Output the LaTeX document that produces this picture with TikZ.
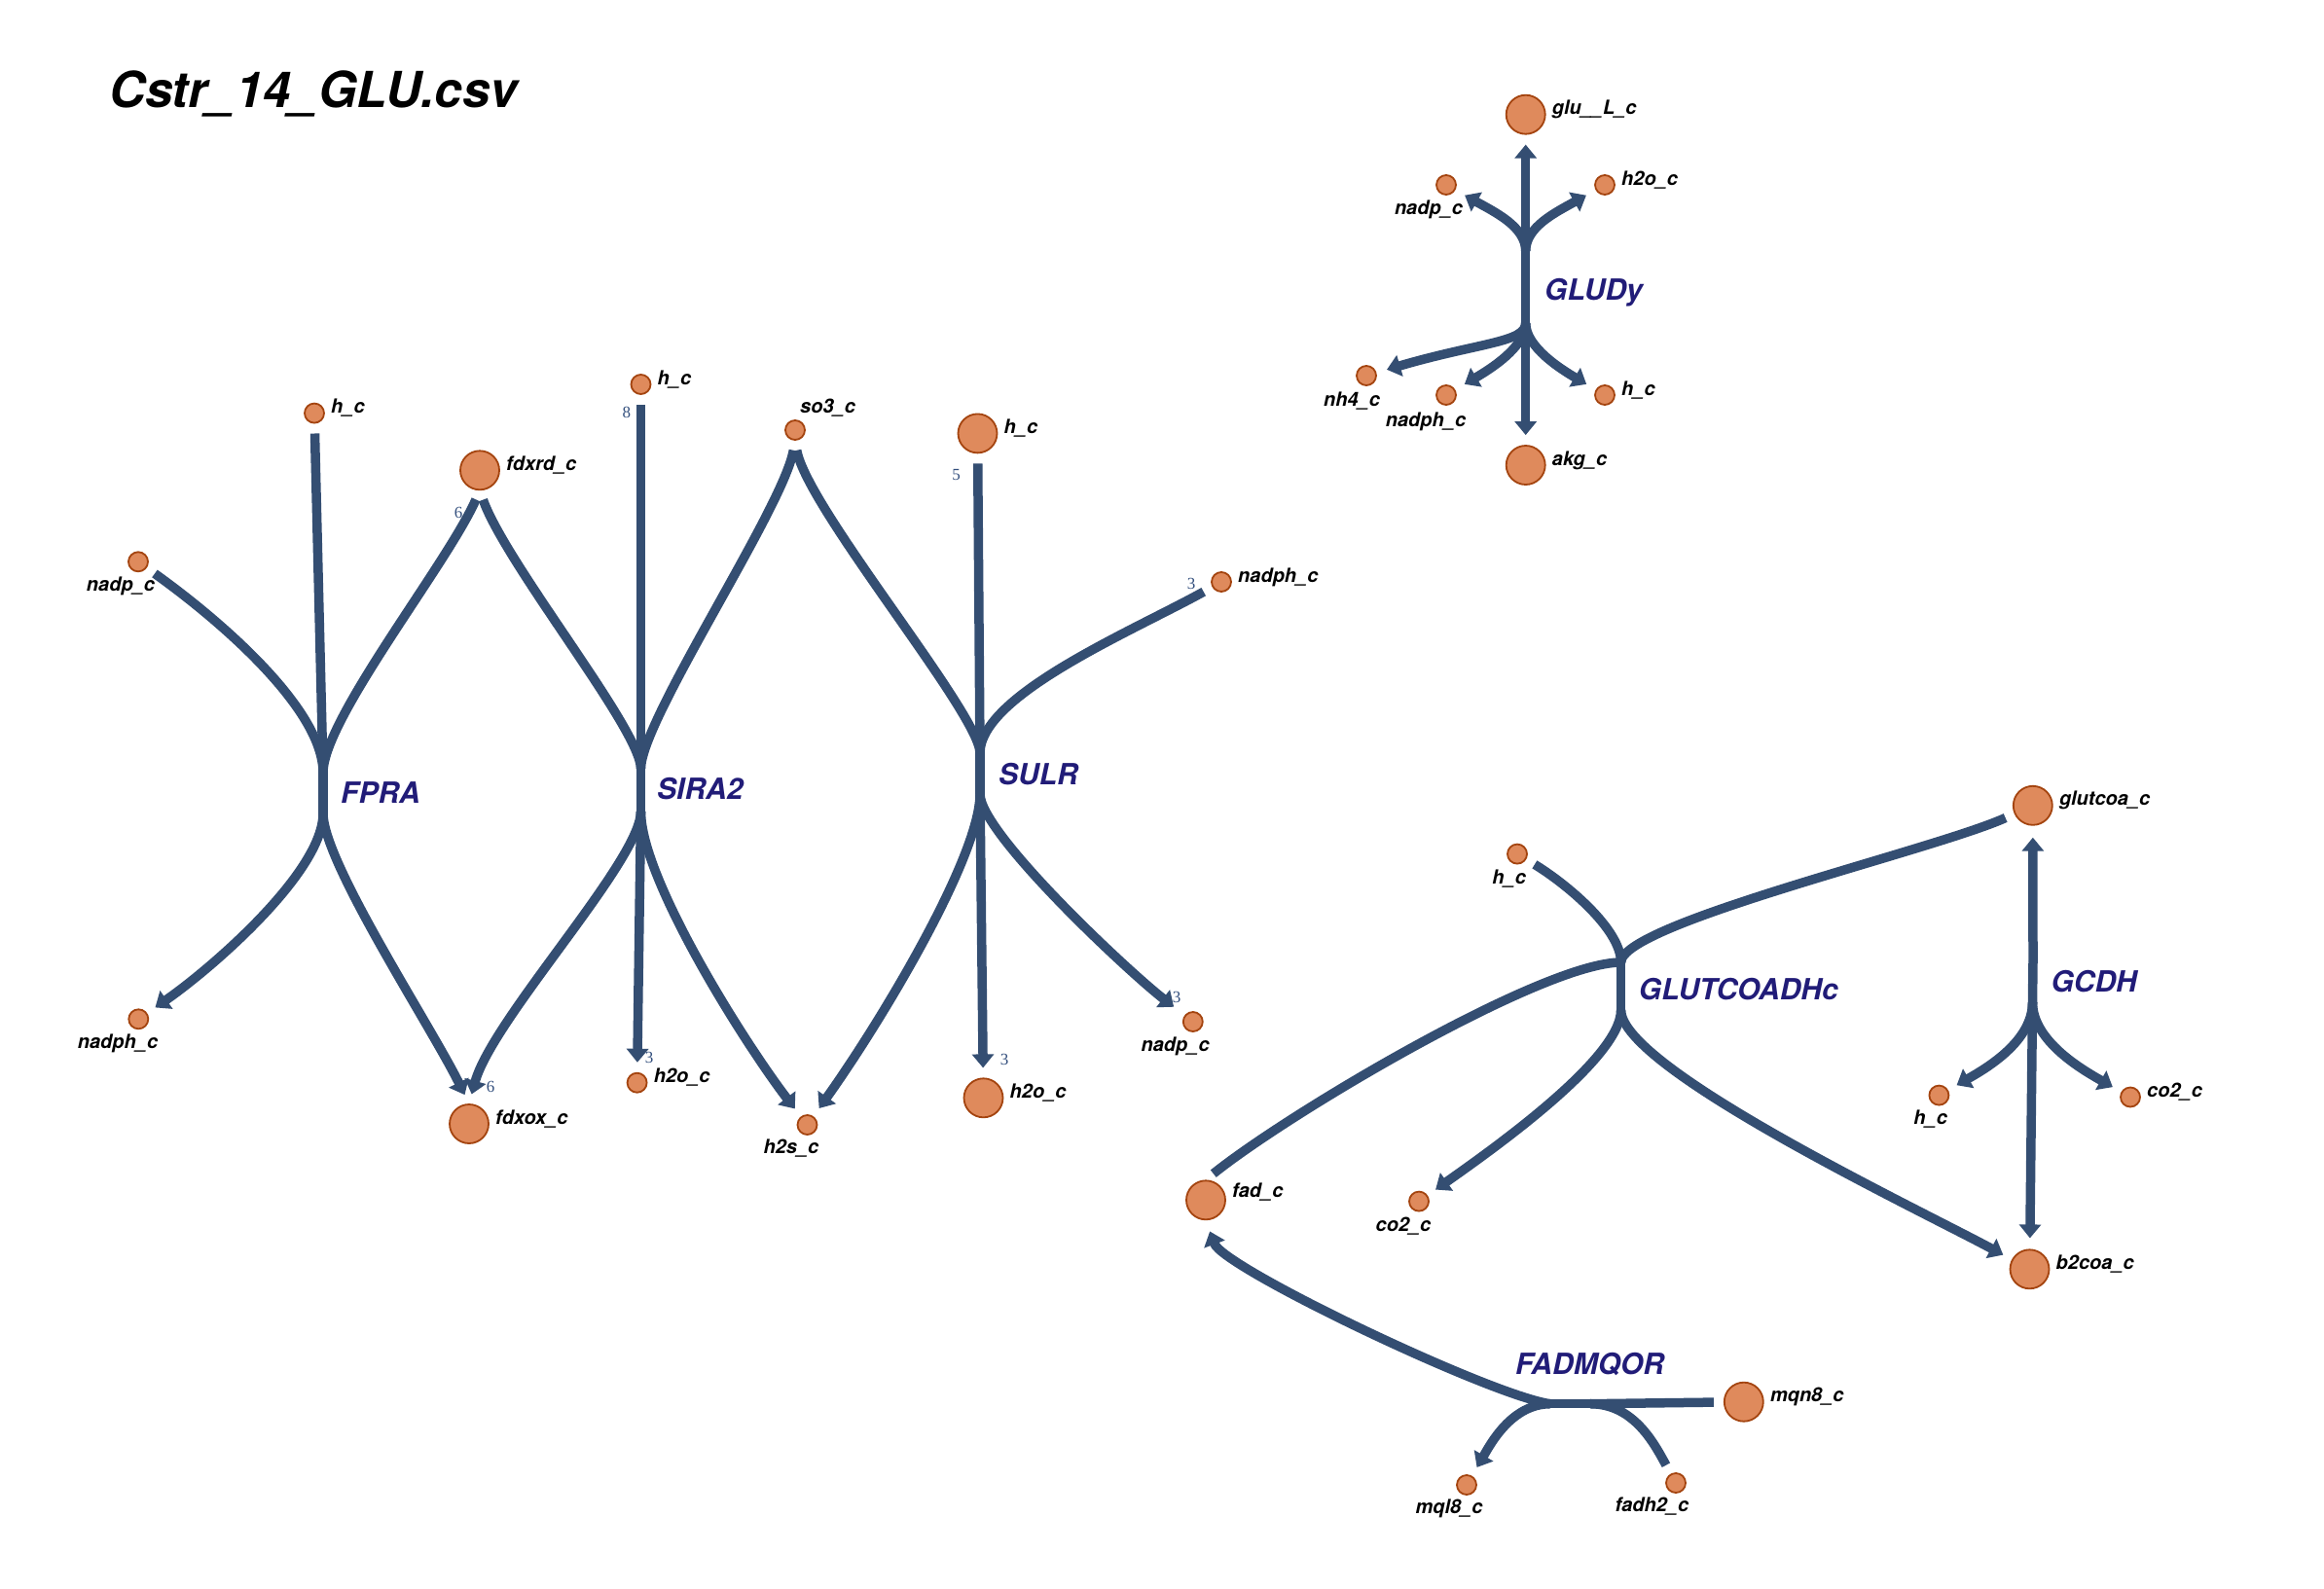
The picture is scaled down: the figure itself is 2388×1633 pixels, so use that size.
\documentclass[tikz,border=0pt]{standalone}
\usepackage{fontspec}
\setmainfont{TeX Gyre Heros}
\newfontfamily\numfont{Liberation Serif}
\usetikzlibrary{arrows.meta}
\definecolor{edgecol}{HTML}{344E72}
\definecolor{metfill}{HTML}{DF8A5C}
\definecolor{metdraw}{HTML}{A4440F}
\definecolor{rxncol}{HTML}{211C78}
\definecolor{numcol}{HTML}{34507E}
\begin{document}
\begin{tikzpicture}[x=1pt,y=-1pt,
  met/.style={circle,fill=metfill,draw=metdraw,line width=1.8pt,inner sep=0pt},
  sm/.style={met,minimum size=20pt},
  bg/.style={met,minimum size=40pt},
  mlab/.style={font=\fontsize{20}{24}\selectfont\bfseries\itshape,anchor=base west,inner sep=0pt},
  mlabc/.style={mlab,anchor=base},
  rxn/.style={font=\fontsize{30}{36}\selectfont\bfseries\itshape,text=rxncol,anchor=base west,inner sep=0pt},
  num/.style={font=\fontsize{17}{19}\selectfont\numfont,text=numcol,inner sep=0pt},
  flux/.style={draw=edgecol,line width=9.5pt},
  prod/.style={flux,-{Triangle[width=22pt,length=14pt]},shorten >=10pt},
  reac/.style={flux,shorten <=10pt},
]
\fill[white] (0,0) rectangle (2388,1633);
\useasboundingbox (0,0) rectangle (2388,1633);

\node[anchor=base west,inner sep=0pt,font=\fontsize{51}{60}\selectfont\bfseries\itshape] (title) at (112,110) {Cstr\_14\_GLU.csv};

% ---------- metabolites: FPRA / SIRA2 / SULR ----------
\node[sm] (hc1) at (323,424.6) {};       \node[mlab] (hc1-l) at (340,424.6) {h\_c};
\node[bg] (fdxrd) at (493,483.3) {};     \node[mlab] (fdxrd-l) at (520,483.3) {fdxrd\_c};
\node[sm] (nadp1) at (142,577.3) {};     \node[mlabc] (nadp1-l) at (124,607.5) {nadp\_c};
\node[sm] (hc2) at (658.5,395) {};       \node[mlab] (hc2-l) at (675.5,395) {h\_c};
\node[sm] (so3) at (817,442) {};         \node[mlab] (so3-l) at (822,424) {so3\_c};
\node[bg] (hc3) at (1004.5,445.4) {};    \node[mlab] (hc3-l) at (1031.5,445.4) {h\_c};
\node[sm] (nadph2) at (1255,598) {};     \node[mlab] (nadph2-l) at (1272,598) {nadph\_c};
\node[sm] (nadph1) at (142.3,1047.3) {}; \node[mlabc] (nadph1-l) at (121,1077) {nadph\_c};
\node[bg] (fdxox) at (482,1155) {};      \node[mlab] (fdxox-l) at (509,1155) {fdxox\_c};
\node[sm] (h2o1) at (654.6,1112.7) {};   \node[mlab] (h2o1-l) at (671.6,1112.7) {h2o\_c};
\node[sm] (h2s) at (829.5,1156) {};      \node[mlabc] (h2s-l) at (813,1185) {h2s\_c};
\node[bg] (h2o2) at (1010.5,1128.3) {};  \node[mlab] (h2o2-l) at (1037.5,1128.3) {h2o\_c};
\node[sm] (nadp2) at (1225.8,1050) {};   \node[mlabc] (nadp2-l) at (1207.6,1080) {nadp\_c};

% ---------- metabolites: GLUDy ----------
\node[bg] (glu) at (1567.7,117.7) {};    \node[mlab] (glu-l) at (1594.7,117.7) {glu\_\_L\_c};
\node[sm] (nadp3) at (1486,190) {};      \node[mlabc] (nadp3-l) at (1468,220.5) {nadp\_c};
\node[sm] (h2o3) at (1649,190) {};       \node[mlab] (h2o3-l) at (1666,190) {h2o\_c};
\node[sm] (nh4) at (1404,386) {};        \node[mlabc] (nh4-l) at (1389,417) {nh4\_c};
\node[sm] (nadph3) at (1486,406) {};     \node[mlabc] (nadph3-l) at (1465,438) {nadph\_c};
\node[sm] (h3) at (1649,406) {};         \node[mlab] (h3-l) at (1666,406) {h\_c};
\node[bg] (akg) at (1567.7,478) {};      \node[mlab] (akg-l) at (1594.7,478) {akg\_c};

% ---------- metabolites: GLUTCOADHc / GCDH / FADMQOR ----------
\node[bg] (glutcoa) at (2088.8,827.8) {}; \node[mlab] (glutcoa-l) at (2115.8,827.8) {glutcoa\_c};
\node[sm] (hc4) at (1559,877.6) {};      \node[mlabc] (hc4-l) at (1550.7,908) {h\_c};
\node[sm] (co2a) at (1458,1234.6) {};    \node[mlabc] (co2a-l) at (1442,1265) {co2\_c};
\node[bg] (b2coa) at (2085.5,1304.3) {}; \node[mlab] (b2coa-l) at (2112.5,1304.3) {b2coa\_c};
\node[sm] (hc5) at (1992.4,1125.6) {};   \node[mlabc] (hc5-l) at (1983.7,1155) {h\_c};
\node[sm] (co2b) at (2189,1127.5) {};    \node[mlab] (co2b-l) at (2206,1127.5) {co2\_c};
\node[bg] (fad) at (1239,1233.3) {};     \node[mlab] (fad-l) at (1266,1230) {fad\_c};
\node[bg] (mqn8) at (1791.8,1440.7) {};  \node[mlab] (mqn8-l) at (1818.8,1440.7) {mqn8\_c};
\node[sm] (fadh2) at (1722,1524) {};     \node[mlabc] (fadh2-l) at (1697.4,1553) {fadh2\_c};
\node[sm] (mql8) at (1507,1526) {};      \node[mlabc] (mql8-l) at (1489,1555) {mql8\_c};

% ---------- reaction hubs ----------
\coordinate (fpraT) at (332,794);     \coordinate (fpraB) at (332,836);
\coordinate (siraT) at (658.5,790);   \coordinate (siraB) at (658.5,834);
\coordinate (sulrT) at (1007,774);    \coordinate (sulrB) at (1007,816);
\coordinate (gludT) at (1567.7,258);  \coordinate (gludB) at (1567.7,332);
\coordinate (glutT) at (1665.6,989);  \coordinate (glutB) at (1665.6,1038);
\coordinate (gcdhT) at (2089,988);    \coordinate (gcdhB) at (2088.5,1030);
\coordinate (fadL) at (1593,1442.7);  \coordinate (fadR) at (1634,1442.7);

\draw[flux] (fpraT) -- (fpraB);
\draw[flux] (siraT) -- (siraB);
\draw[flux] (sulrT) -- (sulrB);
\draw[flux] (gludT) -- (gludB);
\draw[flux] (glutT) -- (glutB);
\draw[flux] (gcdhT) -- (gcdhB);
\draw[flux] (fadL) -- (fadR);

\node[rxn] (fpra) at (350,825) {FPRA};
\node[rxn] (sira2) at (675,821.8) {SIRA2};
\node[rxn] (sulr) at (1026,806) {SULR};
\node[rxn] (gludy) at (1587,308) {GLUDy};
\node[rxn] (glutcoadhc) at (1683.7,1027) {GLUTCOADHc};
\node[rxn] (gcdh) at (2107.3,1019) {GCDH};
\node[rxn] (fadmqor) at (1557,1412.7) {FADMQOR};

% ---------- FPRA ----------
\draw[reac] (hc1) -- (fpraT);
\draw[reac] (nadp1) .. controls +(88,63) and +(0,-64) .. (fpraT);
\draw[reac] (fdxrd.south) .. controls +(-33,75) and +(0,-55) .. (fpraT);
\draw[prod] (fpraB) .. controls +(0,60) and +(75,-52) .. (nadph1);
\draw[prod] (fpraB) .. controls +(0,50) and +(-40,-81) .. (fdxox.north);

% ---------- SIRA2 ----------
\draw[reac] (fdxrd.south) .. controls +(27,76) and +(0,-40) .. (siraT);
\draw[reac] (hc2) -- (siraT);
\draw[reac] (so3.south) .. controls +(-12,69) and +(0,-50) .. (siraT);
\draw[prod] (siraB) .. controls +(0,50) and +(24,-87) .. (fdxox.north);
\draw[prod] (siraB) -- (h2o1);
\draw[prod] (siraB) .. controls +(0,70) and +(-63,-82) .. (h2s);

% ---------- SULR ----------
\draw[reac] (so3.south) .. controls +(12,69) and +(0,-40) .. (sulrT);
\draw[reac] (hc3) -- (sulrT);
\draw[reac] (nadph2) .. controls +(-90,50) and +(0,-60) .. (sulrT);
\draw[prod] (sulrB) .. controls +(0,64) and +(77,-108) .. (h2s);
\draw[prod] (sulrB) -- (h2o2);
\draw[prod,shorten >=14pt] (sulrB) .. controls +(0,40) and +(-67,-52) .. (nadp2);

% ---------- GLUDy ----------
\draw[prod] (gludT) -- (glu);
\draw[prod,shorten >=11pt] (gludT) .. controls +(0,-25) and +(50,28) .. (nadp3);
\draw[prod,shorten >=11pt] (gludT) .. controls +(0,-25) and +(-50,28) .. (h2o3);
\draw[prod] (gludB) -- (akg);
\draw[prod,shorten >=11pt] (gludB) .. controls +(0,20) and +(116,-34) .. (nh4);
\draw[prod,shorten >=11pt] (gludB) .. controls +(0,25) and +(44,-26) .. (nadph3);
\draw[prod,shorten >=11pt] (gludB) .. controls +(0,25) and +(-44,-26) .. (h3);

% ---------- GLUTCOADHc ----------
\draw[reac] (hc4) .. controls +(48,29) and +(0,-35) .. (glutT);
\draw[reac] (glutcoa) .. controls +(-102,46) and +(0,-40) .. (glutT);
\draw[reac] (fad.north) .. controls +(86,-69) and +(-80,0) .. (glutT);
\draw[prod] (glutB) .. controls +(0,50) and +(75,-53) .. (co2a);
\draw[prod] (glutB) .. controls +(0,60) and +(-113,-61) .. (b2coa);

% ---------- GCDH ----------
\draw[prod,shorten >=12pt] (gcdhT) -- (glutcoa);
\draw[prod,shorten >=11pt] (gcdhB) -- (b2coa);
\draw[prod] (gcdhB) .. controls +(0,40) and +(49,-28) .. (hc5);
\draw[prod] (gcdhB) .. controls +(0,40) and +(-49,-28) .. (co2b);

% ---------- FADMQOR ----------
\draw[reac] (mqn8) -- (fadR);
\draw[reac] (fadh2) .. controls +(-22,-40) and +(45,0) .. (fadR);
\draw[prod,shorten >=12pt] (fadL) .. controls +(-60,-8) and +(18,49) .. (fad.south);
\draw[prod] (fadL) .. controls +(-40,0) and +(24,-41) .. (mql8);

% ---------- stoichiometric coefficients ----------
\node[num] (c1) at (471,526.7) {6};
\node[num] (c2) at (643.8,423.7) {8};
\node[num] (c3) at (982.6,488.5) {5};
\node[num] (c4) at (1224,600) {3};
\node[num] (c5) at (504,1117) {6};
\node[num] (c6) at (667,1086.7) {3};
\node[num] (c7) at (1032,1089) {3};
\node[num] (c8) at (1209,1025) {3};
\end{tikzpicture}
\end{document}
